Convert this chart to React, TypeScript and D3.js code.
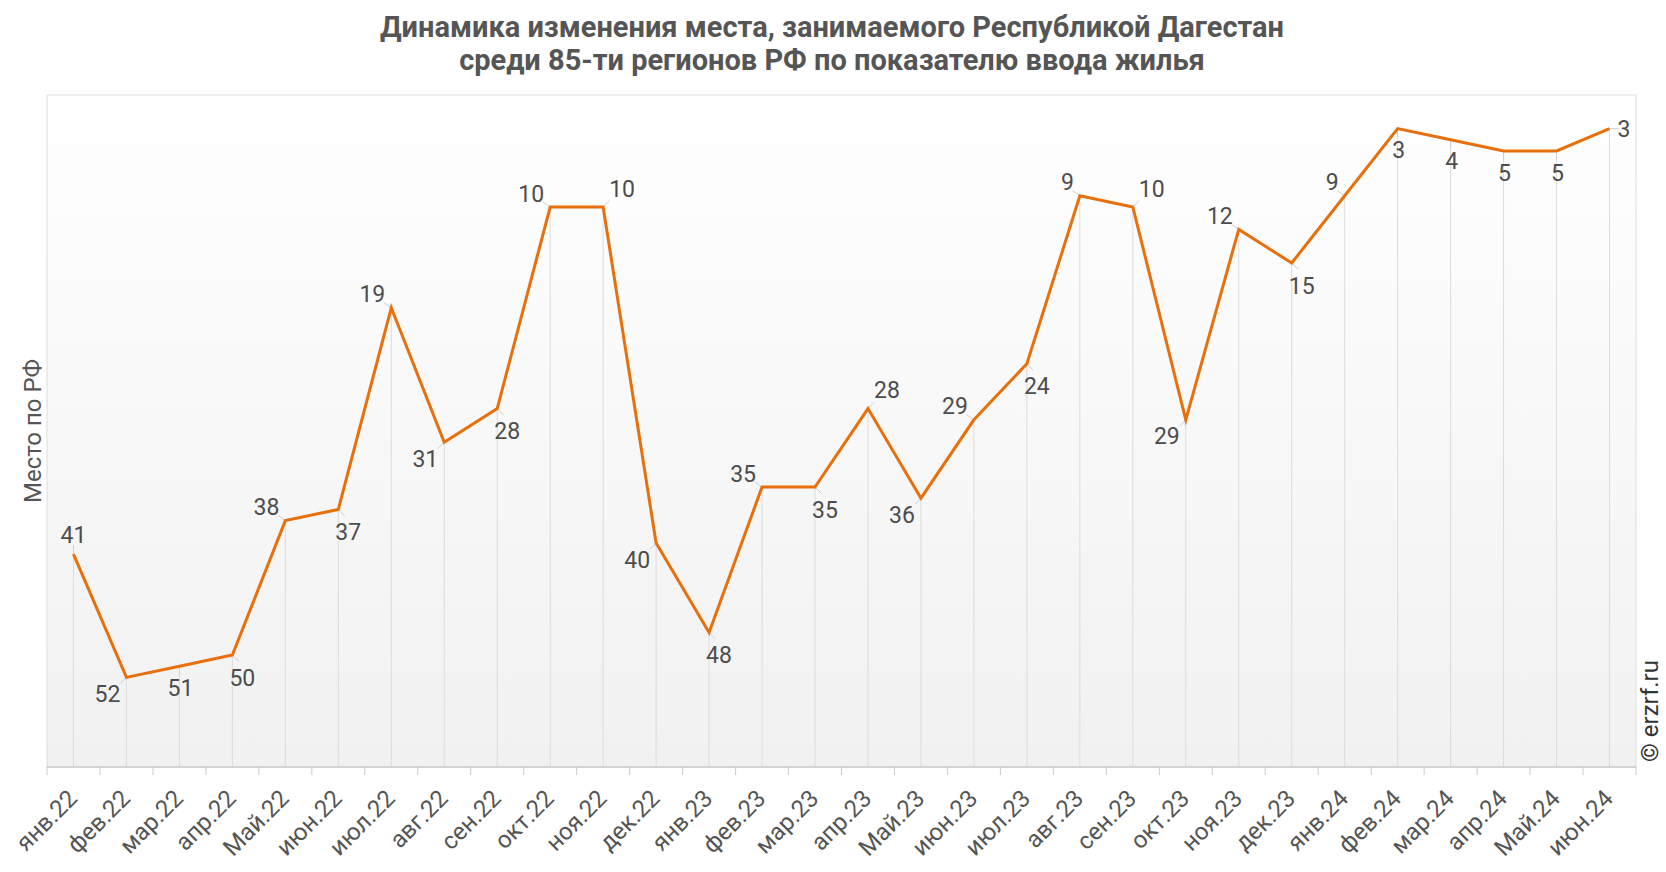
import React from "react";
import * as d3 from "d3";

const months: string[] = [
  "янв.22", "фев.22", "мар.22", "апр.22", "Май.22", "июн.22", "июл.22", "авг.22", "сен.22", "окт.22",
  "ноя.22", "дек.22", "янв.23", "фев.23", "мар.23", "апр.23", "Май.23", "июн.23", "июл.23", "авг.23",
  "сен.23", "окт.23", "ноя.23", "дек.23", "янв.24", "фев.24", "мар.24", "апр.24", "Май.24", "июн.24",
];
const ranks: number[] = [
  41, 52, 51, 50, 38, 37, 19, 31, 28, 10,
  10, 40, 48, 35, 35, 28, 36, 29, 24, 9,
  10, 29, 12, 15, 9, 3, 4, 5, 5, 3,
];
// label placement codes (style, not data)
const labelPos: string[] = [
  "t", "bl", "b", "br", "tl", "br", "tl", "bl", "br", "tl",
  "tr", "bl", "br", "tl", "br", "tr", "bl", "tl", "br", "tl",
  "tr", "bl", "tl", "br", "tl", "b", "b", "b", "b", "r",
];
const titleLines: string[] = [
  "Динамика изменения места, занимаемого Республикой Дагестан",
  "среди 85-ти регионов РФ по показателю ввода жилья",
];
const yDomain: [number, number] = [0, 60];

const W = 1666, H = 872;
const left = 47, right = 1636, top = 95, bottom = 767;
const FONT = "Roboto, 'Noto Sans', sans-serif";
const LINE = "#e8700c";
const TXT = "#4d4d4d";

const offsets: Record<string, [number, number, string]> = {
  t: [0, -19, "middle"],
  b: [1, 22, "middle"],
  tl: [-6, -13, "end"],
  tr: [6, -18, "start"],
  bl: [-6, 17, "end"],
  br: [-3, 23, "start"],
  r: [8, 1, "start"],
};
const leaderDir: Record<string, [number, number]> = {
  t: [0, -1], b: [0, 1], tl: [-1, -0.7], tr: [1, -1], bl: [-1, 1], br: [1, 1], r: [1, 0],
};

export default function App() {
  const x = d3.scaleBand<string>().domain(months).range([left, right]).padding(0);
  const y = d3.scaleLinear().domain(yDomain).range([top, bottom]);
  const cx = (i: number) => (x(months[i]) as number) + x.bandwidth() / 2;
  const line = d3.line<number>().x((_, i) => cx(i)).y((d) => y(d));
  const tickXs = months.map((m) => x(m) as number).concat([right]);

  return (
    <svg width={W} height={H} style={{ position: "absolute", left: 0, top: 0, background: "#fff" }} fontFamily={FONT}>
      <defs>
        <linearGradient id="bg" x1="0" y1="0" x2="0" y2="1">
          <stop offset="0" stopColor="#ffffff" />
          <stop offset="1" stopColor="#f1f1f1" />
        </linearGradient>
      </defs>
      {titleLines.map((t, i) => (
        <text key={i} x={832} y={37 + i * 33} textAnchor="middle" fontSize={29} fontWeight="bold" fill="#555">
          {t}
        </text>
      ))}
      <rect x={left} y={top} width={right - left} height={bottom - top} fill="url(#bg)" stroke="#dedede" strokeWidth={1} />
      {ranks.map((v, i) => (
        <line key={"d" + i} x1={cx(i)} x2={cx(i)} y1={y(v)} y2={bottom} stroke="#dcdcdc" strokeWidth={1} />
      ))}
      <line x1={left} x2={right} y1={bottom} y2={bottom} stroke="#cccccc" strokeWidth={1.5} />
      {tickXs.map((tx, i) => (
        <line key={"t" + i} x1={tx} x2={tx} y1={bottom} y2={bottom + 8} stroke="#cccccc" strokeWidth={1} />
      ))}
      {months.map((m, i) => (
        <text
          key={"m" + i}
          transform={`translate(${cx(i) + 5},${bottom + 33}) rotate(-45)`}
          textAnchor="end"
          fontSize={24}
          fill="#555"
        >
          {m}
        </text>
      ))}
      {ranks.map((v, i) => {
        const [ux, uy] = leaderDir[labelPos[i]];
        const px = cx(i), py = y(v);
        const len = Math.hypot(ux, uy);
        const k = 9 / len;
        return (
          <line key={"l" + i} x1={px} y1={py} x2={px + ux * k} y2={py + uy * k} stroke="#cfcfcf" strokeWidth={1} />
        );
      })}
      <path d={line(ranks) || ""} fill="none" stroke={LINE} strokeWidth={3} strokeLinejoin="miter" />
      {ranks.map((v, i) => {
        const [dx, dy, anchor] = offsets[labelPos[i]];
        return (
          <text
            key={"v" + i}
            x={cx(i) + dx}
            y={y(v) + dy}
            textAnchor={anchor}
            dominantBaseline="central"
            fontSize={23}
            fill={TXT}
          >
            {v}
          </text>
        );
      })}
      <text transform={`translate(41,431) rotate(-90)`} textAnchor="middle" fontSize={24} fill="#555">
        Место по РФ
      </text>
      <text transform={`translate(1658,762) rotate(-90)`} textAnchor="start" fontSize={24} fill="#333">
        © erzrf.ru
      </text>
    </svg>
  );
}
